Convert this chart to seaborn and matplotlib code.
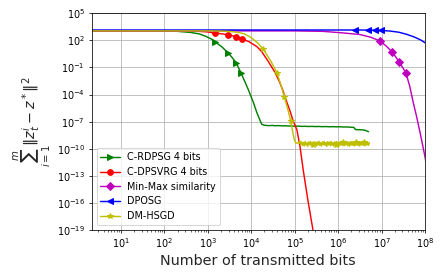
import numpy as np
import matplotlib
matplotlib.use("Agg")
import matplotlib.pyplot as plt
import seaborn as sns

# curves, stored as log10(bits) and log10(error)
rdpsg_x = [0.3, 1.5, 2.0, 2.3, 2.6, 2.8, 2.95, 3.08, 3.17, 3.33, 3.46, 3.56, 3.65, 3.77,
           3.93, 4.05, 4.13, 4.24, 4.30, 4.36, 4.42, 4.48, 4.55, 4.62, 4.70, 4.78, 4.85,
           4.93, 5.00, 5.08, 5.16, 5.24, 5.32, 5.40, 5.48, 5.56, 5.64, 5.72, 5.80, 5.88,
           5.96, 6.04, 6.12, 6.20, 6.28, 6.36, 6.40, 6.48, 6.56, 6.62, 6.66, 6.70]
rdpsg_y = [3.05, 3.05, 3.04, 3.0, 2.88, 2.72, 2.45, 2.15, 1.83, 1.25, 0.63, 0.1, -0.48, -1.67,
           -3.44, -4.9, -6.03, -7.3, -7.4, -7.43, -7.45, -7.42, -7.46, -7.44, -7.47, -7.46, -7.49,
           -7.48, -7.51, -7.50, -7.53, -7.52, -7.54, -7.53, -7.55, -7.54, -7.56, -7.55, -7.57, -7.56,
           -7.58, -7.57, -7.60, -7.59, -7.62, -7.64, -7.88, -7.90, -7.92, -7.96, -8.04, -8.12]
rdpsg_marks = [3.17, 3.46, 3.65, 3.77]

dpsvrg_x = [0.3, 2.0, 2.5, 2.8, 3.0, 3.17, 3.33, 3.47, 3.65, 3.78, 3.95, 4.13, 4.24, 4.4,
            4.55, 4.65, 4.72, 4.80, 4.89, 4.97, 5.05, 5.12, 5.20, 5.30, 5.42, 5.50]
dpsvrg_y = [3.05, 3.05, 3.04, 3.0, 2.93, 2.81, 2.72, 2.63, 2.41, 2.19, 1.85, 1.3, 0.75, -0.4,
            -1.59, -2.6, -3.44, -4.6, -5.8, -7.0, -7.9, -9.7, -12.5, -15.6, -19.0, -21.3]
dpsvrg_marks = [3.17, 3.47, 3.65, 3.78]

minmax_x = [0.3, 5.0, 5.65, 6.05, 6.5, 6.75, 6.97, 7.1, 7.24, 7.41, 7.56, 7.65, 7.73, 7.81,
            7.89, 7.95, 8.0, 8.05]
minmax_y = [3.05, 3.05, 3.0, 2.85, 2.65, 2.35, 1.92, 1.4, 0.74, -0.41, -1.59, -3.1, -4.9, -6.5,
            -8.3, -9.7, -10.9, -12.3]
minmax_marks = [6.97, 7.24, 7.41, 7.56]

dposg_x = [0.3, 6.39, 6.68, 6.85, 6.99, 7.2, 7.4, 7.58, 7.75, 7.9, 8.0, 8.05]
dposg_y = [3.15, 3.15, 3.14, 3.12, 3.10, 3.03, 2.9, 2.67, 2.38, 2.05, 1.74, 1.55]
dposg_marks = [6.39, 6.68, 6.85, 6.99]

# DM-HSGD: descent, then a noisy floor
hsgd_head_x = [0.3, 2.0, 3.0, 3.3, 3.55, 3.7, 3.84, 4.0, 4.15, 4.28, 4.45, 4.59, 4.68, 4.76,
               4.84, 4.91, 4.96, 4.99, 5.03, 5.06]
hsgd_head_y = [3.05, 3.05, 3.05, 3.03, 2.97, 2.88, 2.72, 2.3, 1.7, 1.0, -0.3, -1.59, -2.9, -4.26,
               -5.6, -6.96, -8.3, -9.0, -9.4, -9.35]
hsgd_floor_x = [5.10, 5.12, 5.14, 5.16, 5.18, 5.20, 5.22, 5.24, 5.26, 5.28,
                5.30, 5.32, 5.34, 5.36, 5.38, 5.40, 5.42, 5.44, 5.46, 5.48,
                5.50, 5.52, 5.54, 5.56, 5.58, 5.60, 5.62, 5.64, 5.66, 5.68,
                5.70, 5.72, 5.74, 5.76, 5.78, 5.80, 5.82, 5.84, 5.86, 5.88,
                5.90, 5.92, 5.94, 5.96, 5.98, 6.00, 6.02, 6.04, 6.06, 6.08,
                6.10, 6.12, 6.14, 6.16, 6.18, 6.20, 6.22, 6.24, 6.26, 6.28,
                6.30, 6.32, 6.34, 6.36, 6.38, 6.40, 6.42, 6.44, 6.46, 6.48,
                6.50, 6.52, 6.54, 6.56, 6.58, 6.60, 6.62, 6.64, 6.66, 6.68,
                6.70, 6.72]
hsgd_floor_y = [-9.40, -9.15, -9.55, -9.25, -9.65, -9.30, -9.70, -9.20, -9.60, -9.35,
                -9.75, -9.25, -9.55, -9.20, -9.68, -9.30, -9.62, -9.22, -9.58, -9.28,
                -9.72, -9.26, -9.60, -9.18, -9.66, -9.32, -9.70, -9.24, -9.56, -9.20,
                -9.64, -9.30, -9.74, -9.22, -9.58, -9.27, -9.68, -9.19, -9.62, -9.33,
                -9.70, -9.25, -9.57, -9.21, -9.66, -9.29, -9.72, -9.23, -9.60, -9.18,
                -9.65, -9.31, -9.69, -9.24, -9.58, -9.20, -9.67, -9.28, -9.73, -9.22,
                -9.61, -9.19, -9.64, -9.30, -9.70, -9.23, -9.59, -9.21, -9.66, -9.27,
                -9.71, -9.24, -9.57, -9.20, -9.65, -9.29, -9.69, -9.22, -9.60, -9.26,
                -9.63, -9.35]
hsgd_x = hsgd_head_x + hsgd_floor_x
hsgd_y = hsgd_head_y + hsgd_floor_y
hsgd_marks = [4.28, 4.59, 4.76, 4.91, 5.42, 5.94, 6.12, 6.40, 6.60]

series = [
    ("C-RDPSG 4 bits", rdpsg_x, rdpsg_y, rdpsg_marks, "g", ">"),
    ("C-DPSVRG 4 bits", dpsvrg_x, dpsvrg_y, dpsvrg_marks, "r", "o"),
    ("Min-Max similarity", minmax_x, minmax_y, minmax_marks, "m", "D"),
    ("DPOSG", dposg_x, dposg_y, dposg_marks, "b", "<"),
    ("DM-HSGD", hsgd_x, hsgd_y, hsgd_marks, "y", "*"),
]

sns.set_style("ticks", {"axes.grid": True, "grid.color": "#b0b0b0",
                        "axes.edgecolor": "black", "xtick.color": "black",
                        "ytick.color": "black", "text.color": "black"})
plt.rcParams["font.family"] = ["DejaVu Sans"]

fig = plt.figure(figsize=(442 / 69, 277 / 69), dpi=69)
ax = fig.add_axes([0.2075, 0.17, 0.754, 0.782])

for name, lx, ly, marks, col, mk in series:
    lx = np.array(lx)
    every = [int(np.argmin(np.abs(lx - m))) for m in marks]
    sns.lineplot(x=10 ** lx, y=10 ** np.array(ly), ax=ax, color=col, marker=mk,
                 markevery=every, label=name, estimator=None, sort=False,
                 linewidth=1.5, markersize=6, markeredgewidth=1, markeredgecolor=col)

ax.set_xscale("log")
ax.set_yscale("log")
ax.set_xlim(10 ** 0.325, 1e8)
ax.set_ylim(1e-19, 1e5)
ax.set_xticks([10.0 ** k for k in range(1, 9)])
ax.set_yticks([10.0 ** k for k in range(-19, 6, 3)])
ax.yaxis.set_minor_locator(matplotlib.ticker.NullLocator())
ax.xaxis.set_minor_locator(matplotlib.ticker.LogLocator(base=10, subs=np.arange(2, 10), numticks=20))
ax.xaxis.set_minor_formatter(matplotlib.ticker.NullFormatter())
ax.tick_params(labelsize=10, direction="out")
ax.grid(True, which="major", color="#b0b0b0", linewidth=0.8)
ax.grid(False, which="minor")

ax.set_xlabel("Number of transmitted bits", fontsize=15)
ax.set_ylabel(r"$\sum_{i=1}^{m}\|z_t^i - z^*\|^2$", fontsize=15)
ax.legend(loc="lower left", fontsize=10)

fig.savefig("out.png", dpi=69)
